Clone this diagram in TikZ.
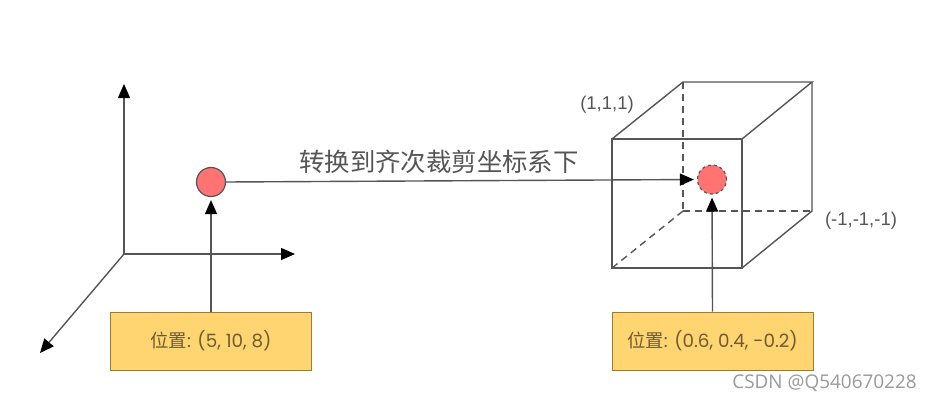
\documentclass[tikz,border=0pt]{standalone}
\usepackage{fontspec}
\setmainfont{Poppins}
\newfontfamily\cjk{Noto Sans CJK SC}
\newfontfamily\cornerfont{Liberation Sans}
\newfontfamily\markfont{Open Sans}
\usetikzlibrary{arrows.meta}
\definecolor{linegray}{HTML}{555555}
\definecolor{textgray}{HTML}{555555}
\definecolor{boxtext}{HTML}{6E5C30}
\definecolor{marktext}{HTML}{999999}
\definecolor{boxfill}{HTML}{FFD572}
\definecolor{boxline}{HTML}{9A7B30}
\definecolor{pointfill}{HTML}{FF7373}

\begin{document}
\begin{tikzpicture}[x=1pt,y=-1pt,
	axis/.style={draw=linegray, line width=1.4pt, arrows={-{Triangle[length=14pt,width=12pt,color=black]}}},
	cube/.style={draw=linegray, line width=1.4pt},
	hidden/.style={cube, dash pattern=on 7pt off 5pt},
	posbox/.style={draw=boxline, fill=boxfill, line width=1pt, minimum width=201pt, minimum height=58pt, inner sep=0pt, text=boxtext, font=\fontsize{18.3}{21}\selectfont},
	point/.style={circle, draw=linegray, fill=pointfill, line width=1.2pt, minimum size=29pt, inner sep=0pt},
	corner/.style={text=textgray, font=\cornerfont\fontsize{18.5}{21}\selectfont}]
\useasboundingbox (0,0) rectangle (932,404);

% left axes
\coordinate (O) at (124,254);
\coordinate (X) at (295,254);
\coordinate (Y) at (124,84);
\coordinate (Z) at (40,353);
\draw[axis] (O) -- (X);
\draw[axis] (O) -- (Y);
\draw[axis] (O) -- (Z);

% cube, back corners
\coordinate (B1) at (683,82);
\coordinate (B2) at (812,82);
\coordinate (B3) at (812,211);
\coordinate (B4) at (683,211);
% cube, front corners
\coordinate (F1) at (612,139);
\coordinate (F2) at (742,139);
\coordinate (F3) at (742,268);
\coordinate (F4) at (612,268);

\draw[hidden] (B1) -- (B4);
\draw[hidden] (B4) -- (B3);
\draw[hidden] (B4) -- (F4);
\draw[cube] (F1) -- (F2) -- (F3) -- (F4) -- cycle;
\draw[cube] (F1) -- (B1) -- (B2) -- (F2);
\draw[cube] (B2) -- (B3) -- (F3);

\node[corner] (near) at (607,105) {(1,1,1)};
\node[corner] (far) at (861,221) {(-1,-1,-1)};

% points and boxes
\node[point] (P1) at (211,182) {};
\node[point, dashed] (P2) at (712,179.5) {};
\node[posbox] (Box1) at (211,341) {{\cjk 位置}: (5, 10, 8)};
\node[posbox] (Box2) at (712.5,341) {{\cjk 位置}: (0.6, 0.4, -0.2)};

\draw[axis, shorten >=3pt] (Box1.north) -- (P1.south);
\draw[axis, shorten >=3pt] (Box2.north) -- (P2.south);
\draw[axis, shorten >=3pt] (P1.east) -- (P2.west);

\node[text=textgray, font=\cjk\fontsize{25.4}{28}\selectfont] (title) at (439,162) {转换到齐次裁剪坐标系下};
\node[text=marktext, font=\markfont\fontsize{18.9}{22}\selectfont] (mark) at (824.5,383) {CSDN @Q540670228};
\end{tikzpicture}
\end{document}
